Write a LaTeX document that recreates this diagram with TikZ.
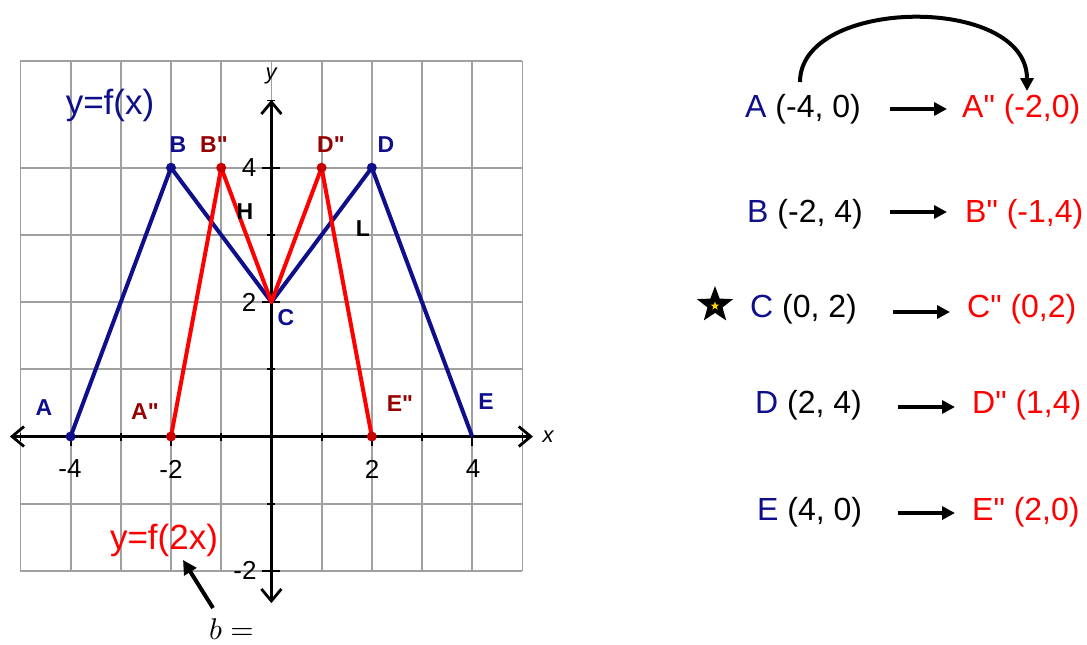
\documentclass[tikz,border=0pt]{standalone}
\usepackage{graphicx}
\usepackage{fontspec}
\setmainfont{Liberation Sans}
\newfontfamily\plainfont{Liberation Sans}
\usetikzlibrary{arrows.meta,shapes.geometric}
\definecolor{navyc}{RGB}{15,15,140}
\definecolor{dred}{RGB}{150,0,0}
\definecolor{dotred}{RGB}{200,0,0}
\definecolor{gridc}{RGB}{160,160,160}
\definecolor{bred}{RGB}{255,0,0}
\definecolor{stary}{RGB}{255,210,0}
\newcommand\dq{{\plainfont\symbol{34}}}
\begin{document}
\begin{tikzpicture}[x=1pt,y=-1pt,
  gridline/.style={gridc,line width=1.8pt},
  axisline/.style={black,line width=2.8pt},
  tickline/.style={black,line width=1.8pt},
  bluecurve/.style={navyc,line width=4pt,line join=round},
  redcurve/.style={bred,line width=4pt,line join=round},
  bluedot/.style={circle,fill=navyc,inner sep=0pt,minimum size=10pt},
  reddot/.style={circle,fill=dotred,inner sep=0pt,minimum size=10pt},
  ptlabel/.style={font=\fontsize{23}{26}\selectfont\bfseries,inner sep=0pt},
  ticklabel/.style={font=\fontsize{26}{30}\selectfont,inner sep=0pt},
  eqlabel/.style={font=\fontsize{35}{40}\selectfont,inner sep=0pt},
  rowtext/.style={font=\fontsize{32}{38}\selectfont,inner sep=0pt,anchor=base west},
  rowarrow/.style={black,line width=4pt,-{Triangle[length=13pt,width=13pt]}},
  blackarrow/.style={black,line width=4pt,-{Triangle[length=14pt,width=14pt]}}
]
\useasboundingbox[fill=white] (0,0) rectangle (1087,645);

\begin{scope}[shift={(271.4,436.5)},x=50.2pt,y=67.2pt]
  % grid
  \foreach \i in {-5,...,5} \draw[gridline] (\i,-2) -- (\i,5.59);
  \foreach \j in {-2,...,4} \draw[gridline] (-5,\j) -- (5,\j);
  \draw[gridline] (-5,5.59) -- (5,5.59);
  % axes
  \coordinate (xl) at (-5.21,0);
  \coordinate (xr) at (5.21,0);
  \coordinate (yb) at (0,-2.48);
  \coordinate (yt) at (0,5.01);
  \draw[axisline,{Straight Barb[length=12pt,width=20pt]}-{Straight Barb[length=12pt,width=20pt]}] (xl) -- (xr);
  \draw[axisline,{Straight Barb[length=12pt,width=20pt]}-{Straight Barb[length=12pt,width=20pt]}] (yb) -- (yt);
  % ticks
  \foreach \i in {-5,-3,-1,1,3,5} \draw[tickline] (\i,0) ++(0,-4pt) -- ++(0,8pt);
  \foreach \i in {-4,-2,2,4} \draw[tickline] (\i,0) ++(0,-9pt) -- ++(0,13pt);
  \foreach \j in {-1,1,3,5} \draw[tickline] (0,\j) ++(-4pt,0) -- ++(8pt,0);
  \foreach \j in {-2,2,4} \draw[tickline] (0,\j) ++(-9pt,0) -- ++(18pt,0);
  % points
  \coordinate (pA) at (-4,0);
  \coordinate (pB) at (-2,4);
  \coordinate (pC) at (0,2);
  \coordinate (pD) at (2,4);
  \coordinate (pE) at (4,0);
  \coordinate (qA) at (-2,0);
  \coordinate (qB) at (-1,4);
  \coordinate (qD) at (1,4);
  \coordinate (qE) at (2,0);
  \draw[bluecurve] (pA) -- (pB) -- (pC) -- (pD) -- (pE);
  \draw[redcurve] (qA) -- (qB) -- (pC) -- (qD) -- (qE);
  \node[bluedot] at (pA) {};
  \node[bluedot] at (pB) {};
  \node[bluedot] at (pD) {};
  \node[reddot] at (qA) {};
  \node[reddot] at (qB) {};
  \node[reddot] at (qD) {};
  \node[reddot] at (qE) {};
\end{scope}

% axis letters
\node[font=\fontsize{22}{26}\selectfont\itshape,inner sep=0pt] (ylab) at (271,76) {y};
\node[font=\fontsize{22}{26}\selectfont\itshape,inner sep=0pt] (xlab) at (548,437) {x};

% tick labels
\node[ticklabel] (tm4) at (70,469) {-4};
\node[ticklabel] (tm2) at (171,469) {-2};
\node[ticklabel] (tp2) at (372,469) {2};
\node[ticklabel] (tp4) at (473,469) {4};
\node[ticklabel] (ty4) at (249,168) {4};
\node[ticklabel] (ty2) at (249,302) {2};
\node[ticklabel] (tym2) at (245,570) {-2};

% point labels
\node[ptlabel,navyc] (lA) at (44,408) {A};
\node[ptlabel,dred] (lA2) at (145,412) {A\dq};
\node[ptlabel,navyc] (lB) at (178,145) {B};
\node[ptlabel,dred] (lB2) at (214,145) {B\dq};
\node[ptlabel,black] (lH) at (245,212) {H};
\node[ptlabel,navyc] (lC) at (286,318) {C};
\node[ptlabel,dred] (lD2) at (331,145) {D\dq};
\node[ptlabel,navyc] (lD) at (386,145) {D};
\node[ptlabel,black] (lL) at (363,229) {L};
\node[ptlabel,dred] (lE2) at (400,404) {E\dq};
\node[ptlabel,navyc] (lE) at (486,402) {E};

% equations
\node[eqlabel,navyc] (eq1) at (110,105) {y=f(x)};
\node[eqlabel,bred] (eq2) at (164,540) {y=f(2x)};
\node[inner sep=0pt,anchor=base west] (bl) at (209,639) {\scalebox{3}{$b=$}};
\coordinate (bs) at (213,608);
\coordinate (be) at (183,560);
\draw[blackarrow] (bs) -- (be);

% right side rows
\node[rowtext] (rA) at (745,117) {{\color{navyc}A} (-4, 0)};
\node[rowtext,bred] (sA) at (962,117) {A\dq{} (-2,0)};
\node[rowtext] (rB) at (747,222) {{\color{navyc}B} (-2, 4)};
\node[rowtext,bred] (sB) at (965,222) {B\dq{} (-1,4)};
\node[rowtext] (rC) at (750,317) {{\color{navyc}C} (0, 2)};
\node[rowtext,bred] (sC) at (967,317) {C\dq{} (0,2)};
\node[rowtext] (rD) at (755,413) {{\color{navyc}D} (2, 4)};
\node[rowtext,bred] (sD) at (972,413) {D\dq{} (1,4)};
\node[rowtext] (rE) at (757,520) {{\color{navyc}E} (4, 0)};
\node[rowtext,bred] (sE) at (972,520) {E\dq{} (2,0)};

\draw[rowarrow] (890,109) -- (947,109);
\draw[rowarrow] (890,212) -- (947,212);
\draw[rowarrow] (893,312) -- (950,312);
\draw[rowarrow] (898,407) -- (955,407);
\draw[rowarrow] (898,513) -- (955,513);

% curved arrow
\coordinate (cs) at (800,82);
\coordinate (ce) at (1027,91);
\draw[black,line width=4pt,-{Triangle[length=13pt,width=13pt]}] (cs) .. controls (800,-3) and (1027,-6) .. (ce);

% star
\node[star,star points=5,star point ratio=2.4,fill=black,inner sep=0pt,minimum size=38pt] (st) at (715,305) {};
\node[star,star points=5,star point ratio=2.4,fill=stary,inner sep=0pt,minimum size=9pt] (st2) at (715,306) {};
\end{tikzpicture}
\end{document}
